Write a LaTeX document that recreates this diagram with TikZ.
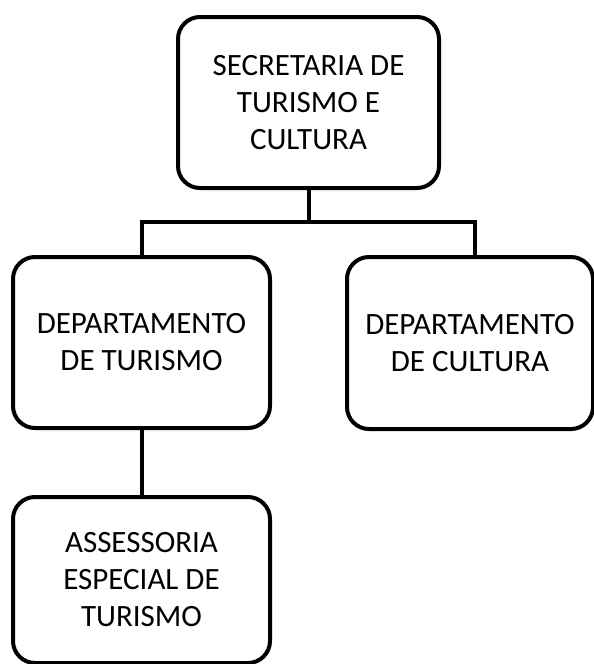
\documentclass[tikz,border=0pt]{standalone}
\usepackage{fontspec}
\setmainfont{Carlito}
\begin{document}
\begin{tikzpicture}[x=1pt,y=-1pt,
  orgbox/.style={draw=black, line width=4pt, rounded corners=22pt, fill=white,
    align=center, inner sep=0pt, font=\fontsize{31}{37}\selectfont},
  conn/.style={draw=black, line width=4pt}]
\useasboundingbox (0,0) rectangle (594,664);
\fill[white] (0,0) rectangle (594,664);
\node[orgbox, minimum width=261pt, minimum height=171pt] (top) at (308.5,102.5)
  {SECRETARIA DE\\TURISMO E\\CULTURA};
\node[orgbox, minimum width=257pt, minimum height=171pt] (left) at (141.5,342.5)
  {DEPARTAMENTO\\DE TURISMO};
\node[orgbox, minimum width=246pt, minimum height=172pt] (right) at (470,343)
  {DEPARTAMENTO\\DE CULTURA};
\node[orgbox, minimum width=257pt, minimum height=166pt] (bottom) at (141.5,580)
  {ASSESSORIA\\ESPECIAL DE\\TURISMO};
\coordinate (bus) at (308.5,222);
\draw[conn] (top.south) -- (bus);
\draw[conn] (bus) -| (left.north);
\draw[conn] (bus) -| ([xshift=5pt]right.north);
\draw[conn] (left.south) -- (bottom.north);
\end{tikzpicture}
\end{document}
